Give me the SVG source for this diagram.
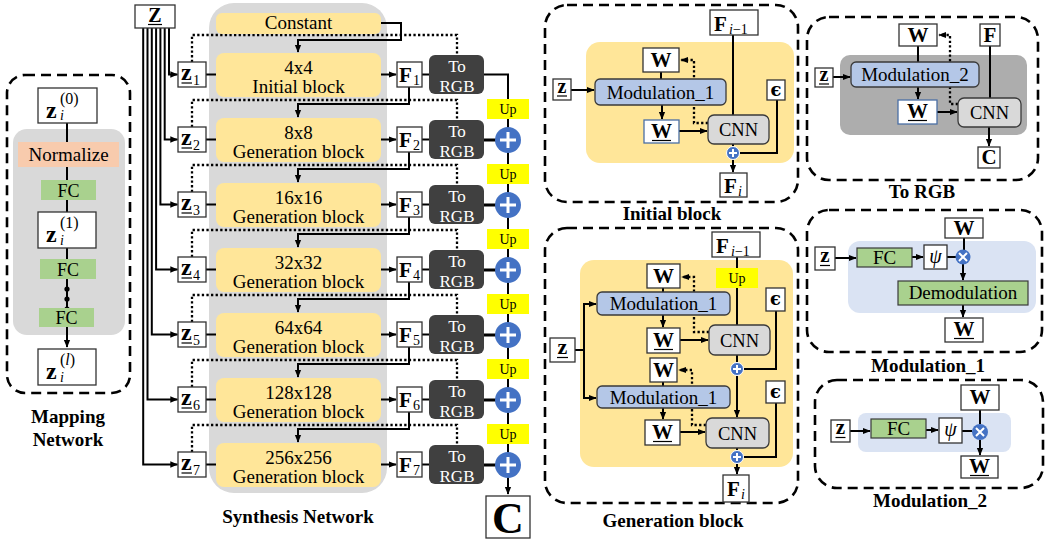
<svg xmlns="http://www.w3.org/2000/svg" width="1050" height="545" viewBox="0 0 1050 545" font-family="'Liberation Serif', 'Times New Roman', serif">
<defs>
<marker id="ah" viewBox="0 0 10 10" refX="9" refY="5" markerWidth="8" markerHeight="8" markerUnits="userSpaceOnUse" orient="auto"><path d="M0,1 L10,5 L0,9 z" fill="#000"/></marker>
<style>
text{font-family:"Liberation Serif","Times New Roman",serif;fill:#000}
.c{text-anchor:middle}
.b{font-weight:bold}
.it{font-style:italic}
.t19{font-size:19px}
.ttl{font-size:19px;font-weight:bold;text-anchor:middle}
.box{fill:#fff;stroke:#333;stroke-width:1.3}
.bbox{fill:#fff;stroke:#4A6FA5;stroke-width:1.3}
.blk{fill:#FFE699}
.rgb{fill:#404040}
.up{fill:#FFFF00}
.ln{fill:none;stroke:#000;stroke-width:2}
.th{fill:none;stroke:#000;stroke-width:3}
.dot{fill:none;stroke:#000;stroke-width:2.3;stroke-dasharray:2.3 2.3}
.dash{fill:none;stroke:#000;stroke-width:2.6;stroke-dasharray:10 6}
.mod{fill:#B4C7E7;stroke:#3A3A3A;stroke-width:1.3}
.cnn{fill:#D9D9D9;stroke:#3A3A3A;stroke-width:1.3}
.fc{fill:#A9D18E}
.fcs{fill:#A9D18E;stroke:#3A3A3A;stroke-width:1.2}
.add{fill:#4472C4}
.wl{stroke:#fff;stroke-width:3}
.ws{stroke:#fff;stroke-width:2}
.ul{stroke:#000;stroke-width:1.2}
.w{fill:#fff;font-size:17px;text-anchor:middle}
.upt{font-size:14px;text-anchor:middle}
.W{font-size:21px;font-weight:bold;text-anchor:middle}
.z{font-size:24px;font-weight:bold}
.eps{font-family:"DejaVu Serif",serif;font-size:18px;font-weight:bold;text-anchor:middle}
</style>
</defs>
<rect width="1050" height="545" fill="#fff"/>

<!-- ============ background panels ============ -->
<g id="panels">
  <rect class="dash" x="7" y="75" width="123" height="318" rx="18"/>
  <rect x="13" y="129" width="112" height="206" rx="14" fill="#D9D9D9"/>
  <rect x="209" y="3" width="178" height="490" rx="25" fill="#D9D9D9"/>
  <rect class="dash" x="545" y="5" width="253" height="197" rx="22"/>
  <rect x="586" y="42" width="208" height="121" rx="14" fill="#FFE699"/>
  <rect class="dash" x="807" y="17" width="231" height="163" rx="22"/>
  <rect x="840" y="55" width="187" height="80" rx="10" fill="#ADADAD"/>
  <rect class="dash" x="545" y="228" width="253" height="275" rx="22"/>
  <rect x="580" y="260" width="213" height="207" rx="14" fill="#FFE699"/>
  <rect class="dash" x="807" y="210" width="235" height="142" rx="22"/>
  <rect x="848" y="241" width="188" height="72" rx="12" fill="#DAE3F3"/>
  <rect class="dash" x="815" y="380" width="228" height="108" rx="22"/>
  <rect x="858" y="413" width="153" height="39" rx="8" fill="#DAE3F3"/>
</g>

<!-- ============ connectors ============ -->
<g id="connectors">
  <!-- mapping network -->
  <path class="ln" d="M67,123 V347" marker-end="url(#ah)"/>
  <!-- Z fan-out to the per-layer codes -->
  <path class="ln" d="M169,28 V74.5 H177.5" marker-end="url(#ah)"/>
  <path class="ln" d="M164.7,28 V139.5 H177.5" marker-end="url(#ah)"/>
  <path class="ln" d="M160.4,28 V204.5 H177.5" marker-end="url(#ah)"/>
  <path class="ln" d="M156.1,28 V269.5 H177.5" marker-end="url(#ah)"/>
  <path class="ln" d="M151.8,28 V334.5 H177.5" marker-end="url(#ah)"/>
  <path class="ln" d="M147.5,28 V399.5 H177.5" marker-end="url(#ah)"/>
  <path class="ln" d="M143.2,28 V464.5 H177.5" marker-end="url(#ah)"/>
  <!-- code to block, block to feature, feature to RGB -->
  <path class="ln" d="M206,74.5 H216 M206,139.5 H216 M206,204.5 H216 M206,269.5 H216 M206,334.5 H216 M206,399.5 H216 M206,464.5 H216"/>
  <path class="ln" d="M381,74.5 H396" marker-end="url(#ah)"/>
  <path class="ln" d="M381,139.5 H396" marker-end="url(#ah)"/>
  <path class="ln" d="M381,204.5 H396" marker-end="url(#ah)"/>
  <path class="ln" d="M381,269.5 H396" marker-end="url(#ah)"/>
  <path class="ln" d="M381,334.5 H396" marker-end="url(#ah)"/>
  <path class="ln" d="M381,399.5 H396" marker-end="url(#ah)"/>
  <path class="ln" d="M381,464.5 H396" marker-end="url(#ah)"/>
  <path class="ln" d="M422,74.5 H429 M422,139.5 H429 M422,204.5 H429 M422,269.5 H429 M422,334.5 H429 M422,399.5 H429 M422,464.5 H429"/>
  <!-- code also feeds the ToRGB of its layer -->
  <path class="dot" d="M192,62 V35 H457 V55"/>
  <path class="dot" d="M192,127 V100 H457 V120"/>
  <path class="dot" d="M192,192 V165 H457 V185"/>
  <path class="dot" d="M192,257 V230 H457 V250"/>
  <path class="dot" d="M192,322 V295 H457 V315"/>
  <path class="dot" d="M192,387 V360 H457 V380"/>
  <path class="dot" d="M192,452 V425 H457 V445"/>
  <!-- feature maps into the next block -->
  <path class="ln" d="M381,23 H401 V40 H298 V52" marker-end="url(#ah)"/>
  <path class="ln" d="M409,87 V104 H298 V117" marker-end="url(#ah)"/>
  <path class="ln" d="M409,152 V169 H298 V182" marker-end="url(#ah)"/>
  <path class="ln" d="M409,217 V234 H298 V247" marker-end="url(#ah)"/>
  <path class="ln" d="M409,282 V299 H298 V312" marker-end="url(#ah)"/>
  <path class="ln" d="M409,347 V364 H298 V377" marker-end="url(#ah)"/>
  <path class="ln" d="M409,412 V429 H298 V442" marker-end="url(#ah)"/>
  <!-- RGB skip path -->
  <path class="ln" d="M484,74.5 H508 V494" marker-end="url(#ah)"/>
  <path class="th" d="M484,140 H496 M484,205 H496 M484,270 H496 M484,335 H496 M484,400 H496 M484,465 H496"/>

  <!-- initial block detail -->
  <path class="ln" d="M571,90 H594" marker-end="url(#ah)"/>
  <path class="ln" d="M661,72 V79"/>
  <path class="ln" d="M662,105 V119" marker-end="url(#ah)"/>
  <path class="ln" d="M679,131 H707" marker-end="url(#ah)"/>
  <path class="dot" d="M708,123 H694 V60 H681" marker-end="url(#ah)"/>
  <path class="ln" d="M733,35 V115 M733,144 V147"/>
  <path class="ln" d="M733,159 V172" marker-end="url(#ah)"/>
  <path class="ln" d="M777,100 V153 H739.5"/>

  <!-- ToRGB detail -->
  <path class="ln" d="M833,77 H850" marker-end="url(#ah)"/>
  <path class="ln" d="M918,46 V62"/>
  <path class="ln" d="M918,87 V99" marker-end="url(#ah)"/>
  <path class="ln" d="M937,112 H957" marker-end="url(#ah)"/>
  <path class="dot" d="M958,104 H950 V35 H939" marker-end="url(#ah)"/>
  <path class="ln" d="M990,46 V98"/>
  <path class="ln" d="M989,127 V146" marker-end="url(#ah)"/>

  <!-- generation block detail -->
  <path class="ln" d="M575,350 H584"/>
  <path class="ln" d="M584,350 V304 H596" marker-end="url(#ah)"/>
  <path class="ln" d="M584,350 V398 H596" marker-end="url(#ah)"/>
  <path class="ln" d="M663,288 V292 M663,382 V386"/>
  <path class="ln" d="M663,315 V327" marker-end="url(#ah)"/>
  <path class="ln" d="M663,408 V419" marker-end="url(#ah)"/>
  <path class="ln" d="M680,340 H708" marker-end="url(#ah)"/>
  <path class="ln" d="M680,432 H705" marker-end="url(#ah)"/>
  <path class="dot" d="M709,332 H694 V277 H682" marker-end="url(#ah)"/>
  <path class="dot" d="M706,425 H692 V370 H679" marker-end="url(#ah)"/>
  <path class="ln" d="M737,257 V325 M737,355 V362.5 M737,448 V450.5"/>
  <path class="ln" d="M776,311 V369 H743.5 M776,403 V457 H743.5"/>
  <path class="ln" d="M737,375.5 V417" marker-end="url(#ah)"/>
  <path class="ln" d="M737,463.5 V474" marker-end="url(#ah)"/>

  <!-- modulation_1 detail -->
  <path class="ln" d="M835,258 H856" marker-end="url(#ah)"/>
  <path class="ln" d="M912,257 H923" marker-end="url(#ah)"/>
  <path class="ln" d="M947,257 H956 M964,238 V250"/>
  <path class="ln" d="M963,264 V280" marker-end="url(#ah)"/>
  <path class="ln" d="M963,305 V317" marker-end="url(#ah)"/>

  <!-- modulation_2 detail -->
  <path class="ln" d="M850,431 H870" marker-end="url(#ah)"/>
  <path class="ln" d="M926,430 H938" marker-end="url(#ah)"/>
  <path class="ln" d="M962,431 H972 M980,410 V424"/>
  <path class="ln" d="M980,440 V455" marker-end="url(#ah)"/>
</g>

<!-- ============ mapping network ============ -->
<g id="map-z0">
  <rect class="box" x="38" y="88" width="59" height="35"/>
  <text x="46" y="118" class="z">z</text><text x="60" y="104" font-size="16">(0)</text><text x="60" y="120" font-size="14" class="it">i</text>
</g>
<g id="map-normalize">
  <rect x="18" y="142" width="101" height="25" fill="#F8CBAD"/>
  <text x="68.5" y="161" class="t19 c">Normalize</text>
</g>
<g id="map-fc1"><rect class="fc" x="41" y="180" width="55" height="20"/><text x="68.5" y="197" class="c" font-size="18">FC</text></g>
<g id="map-z1">
  <rect class="box" x="38" y="212" width="58" height="36"/>
  <text x="46" y="242" class="z">z</text><text x="60" y="228" font-size="16">(1)</text><text x="60" y="245" font-size="14" class="it">i</text>
</g>
<g id="map-fc2"><rect class="fc" x="40" y="259" width="56" height="20"/><text x="68" y="276" class="c" font-size="18">FC</text></g>
<g id="map-dots"><circle cx="67" cy="289" r="2.6"/><circle cx="67" cy="299" r="2.6"/><circle cx="67" cy="309" r="2.6"/></g>
<g id="map-fc3"><rect class="fc" x="39" y="308" width="55" height="19"/><text x="66.5" y="324" class="c" font-size="18">FC</text></g>
<g id="map-zl">
  <rect class="box" x="38" y="349" width="58" height="36"/>
  <text x="46" y="379" class="z">z</text><text x="60" y="365" font-size="16">(<tspan class="it">l</tspan>)</text><text x="60" y="382" font-size="14" class="it">i</text>
</g>
<g id="map-title"><text x="68" y="423" class="ttl">Mapping</text><text x="68" y="446" class="ttl">Network</text></g>

<!-- ============ synthesis network ============ -->
<g id="Z">
  <rect class="box" x="135" y="5" width="40" height="23"/>
  <text x="155" y="22" class="c b" font-size="20">Z</text>
  <line class="ul" x1="148" y1="24.5" x2="162" y2="24.5"/>
</g>
<g id="constant"><rect class="blk" x="216" y="13" width="165" height="21" rx="6"/><text x="298.5" y="29" class="t19 c">Constant</text></g>

<g id="blk1"><rect class="blk" x="216" y="53" width="165" height="44" rx="8"/><text x="298.5" y="74" class="t19 c">4x4</text><text x="298.5" y="93" class="t19 c">Initial block</text></g>
<g id="blk2"><rect class="blk" x="216" y="118" width="165" height="44" rx="8"/><text x="298.5" y="139" class="t19 c">8x8</text><text x="298.5" y="158" class="t19 c">Generation block</text></g>
<g id="blk3"><rect class="blk" x="216" y="183" width="165" height="44" rx="8"/><text x="298.5" y="204" class="t19 c">16x16</text><text x="298.5" y="223" class="t19 c">Generation block</text></g>
<g id="blk4"><rect class="blk" x="216" y="248" width="165" height="44" rx="8"/><text x="298.5" y="269" class="t19 c">32x32</text><text x="298.5" y="288" class="t19 c">Generation block</text></g>
<g id="blk5"><rect class="blk" x="216" y="313" width="165" height="44" rx="8"/><text x="298.5" y="334" class="t19 c">64x64</text><text x="298.5" y="353" class="t19 c">Generation block</text></g>
<g id="blk6"><rect class="blk" x="216" y="378" width="165" height="44" rx="8"/><text x="298.5" y="399" class="t19 c">128x128</text><text x="298.5" y="418" class="t19 c">Generation block</text></g>
<g id="blk7"><rect class="blk" x="216" y="443" width="165" height="44" rx="8"/><text x="298.5" y="464" class="t19 c">256x256</text><text x="298.5" y="483" class="t19 c">Generation block</text></g>

<!-- per-layer codes -->
<g id="z1"><rect class="box" x="178" y="62" width="28" height="25"/><text x="181" y="80" class="z">z</text><text x="193" y="85" font-size="14">1</text><line class="ul" x1="181.5" y1="83" x2="192" y2="83"/></g>
<g id="z2"><rect class="box" x="178" y="127" width="28" height="25"/><text x="181" y="145" class="z">z</text><text x="193" y="150" font-size="14">2</text><line class="ul" x1="181.5" y1="148" x2="192" y2="148"/></g>
<g id="z3"><rect class="box" x="178" y="192" width="28" height="25"/><text x="181" y="210" class="z">z</text><text x="193" y="215" font-size="14">3</text><line class="ul" x1="181.5" y1="213" x2="192" y2="213"/></g>
<g id="z4"><rect class="box" x="178" y="257" width="28" height="25"/><text x="181" y="275" class="z">z</text><text x="193" y="280" font-size="14">4</text><line class="ul" x1="181.5" y1="278" x2="192" y2="278"/></g>
<g id="z5"><rect class="box" x="178" y="322" width="28" height="25"/><text x="181" y="340" class="z">z</text><text x="193" y="345" font-size="14">5</text><line class="ul" x1="181.5" y1="343" x2="192" y2="343"/></g>
<g id="z6"><rect class="box" x="178" y="387" width="28" height="25"/><text x="181" y="405" class="z">z</text><text x="193" y="410" font-size="14">6</text><line class="ul" x1="181.5" y1="408" x2="192" y2="408"/></g>
<g id="z7"><rect class="box" x="178" y="452" width="28" height="25"/><text x="181" y="470" class="z">z</text><text x="193" y="475" font-size="14">7</text><line class="ul" x1="181.5" y1="473" x2="192" y2="473"/></g>

<!-- feature maps -->
<g id="F1"><rect class="box" x="397" y="62" width="25" height="25"/><text x="399" y="82" class="b" font-size="21">F</text><text x="413" y="85" font-size="14">1</text></g>
<g id="F2"><rect class="box" x="397" y="127" width="25" height="25"/><text x="399" y="147" class="b" font-size="21">F</text><text x="413" y="150" font-size="14">2</text></g>
<g id="F3"><rect class="box" x="397" y="192" width="25" height="25"/><text x="399" y="212" class="b" font-size="21">F</text><text x="413" y="215" font-size="14">3</text></g>
<g id="F4"><rect class="box" x="397" y="257" width="25" height="25"/><text x="399" y="277" class="b" font-size="21">F</text><text x="413" y="280" font-size="14">4</text></g>
<g id="F5"><rect class="box" x="397" y="322" width="25" height="25"/><text x="399" y="342" class="b" font-size="21">F</text><text x="413" y="345" font-size="14">5</text></g>
<g id="F6"><rect class="box" x="397" y="387" width="25" height="25"/><text x="399" y="407" class="b" font-size="21">F</text><text x="413" y="410" font-size="14">6</text></g>
<g id="F7"><rect class="box" x="397" y="452" width="25" height="25"/><text x="399" y="472" class="b" font-size="21">F</text><text x="413" y="475" font-size="14">7</text></g>

<!-- ToRGB layers -->
<g id="rgb1"><rect class="rgb" x="429" y="55" width="55" height="39" rx="6"/><text x="457" y="72" class="w">To</text><text x="457" y="92" class="w">RGB</text></g>
<g id="rgb2"><rect class="rgb" x="429" y="120" width="55" height="39" rx="6"/><text x="457" y="137" class="w">To</text><text x="457" y="157" class="w">RGB</text></g>
<g id="rgb3"><rect class="rgb" x="429" y="185" width="55" height="39" rx="6"/><text x="457" y="202" class="w">To</text><text x="457" y="222" class="w">RGB</text></g>
<g id="rgb4"><rect class="rgb" x="429" y="250" width="55" height="39" rx="6"/><text x="457" y="267" class="w">To</text><text x="457" y="287" class="w">RGB</text></g>
<g id="rgb5"><rect class="rgb" x="429" y="315" width="55" height="39" rx="6"/><text x="457" y="332" class="w">To</text><text x="457" y="352" class="w">RGB</text></g>
<g id="rgb6"><rect class="rgb" x="429" y="380" width="55" height="39" rx="6"/><text x="457" y="397" class="w">To</text><text x="457" y="417" class="w">RGB</text></g>
<g id="rgb7"><rect class="rgb" x="429" y="445" width="55" height="39" rx="6"/><text x="457" y="462" class="w">To</text><text x="457" y="482" class="w">RGB</text></g>

<!-- upsampling and sums on the RGB path -->
<g id="up2"><rect class="up" x="487" y="99" width="42" height="20"/><text x="508" y="114" class="upt">Up</text></g>
<g id="up3"><rect class="up" x="487" y="164" width="42" height="20"/><text x="508" y="179" class="upt">Up</text></g>
<g id="up4"><rect class="up" x="487" y="229" width="42" height="20"/><text x="508" y="244" class="upt">Up</text></g>
<g id="up5"><rect class="up" x="487" y="294" width="42" height="20"/><text x="508" y="309" class="upt">Up</text></g>
<g id="up6"><rect class="up" x="487" y="359" width="42" height="20"/><text x="508" y="374" class="upt">Up</text></g>
<g id="up7"><rect class="up" x="487" y="424" width="42" height="20"/><text x="508" y="439" class="upt">Up</text></g>
<g id="sum2"><circle class="add" cx="508" cy="140" r="13"/><path class="wl" d="M500,140 H516 M508,132 V148"/></g>
<g id="sum3"><circle class="add" cx="508" cy="205" r="13"/><path class="wl" d="M500,205 H516 M508,197 V213"/></g>
<g id="sum4"><circle class="add" cx="508" cy="270" r="13"/><path class="wl" d="M500,270 H516 M508,262 V278"/></g>
<g id="sum5"><circle class="add" cx="508" cy="335" r="13"/><path class="wl" d="M500,335 H516 M508,327 V343"/></g>
<g id="sum6"><circle class="add" cx="508" cy="400" r="13"/><path class="wl" d="M500,400 H516 M508,392 V408"/></g>
<g id="sum7"><circle class="add" cx="508" cy="465" r="13"/><path class="wl" d="M500,465 H516 M508,457 V473"/></g>
<g id="C-out"><rect class="box" x="486" y="496" width="44" height="42"/><text x="508" y="533" class="c b" font-size="44">C</text></g>
<g id="synth-title"><text x="298" y="523" class="ttl">Synthesis Network</text></g>

<!-- ============ initial block detail ============ -->
<g id="ib-Fprev"><rect class="box" x="710" y="10" width="48" height="25"/><text x="714" y="31" class="b" font-size="21">F</text><text x="729" y="34" font-size="14"><tspan class="it">i</tspan>−1</text></g>
<g id="ib-W"><rect class="box" x="643" y="48" width="36" height="24"/><text x="661" y="67" class="W">W</text></g>
<g id="ib-z"><rect class="box" x="553" y="79" width="18" height="21"/><text x="562" y="93" class="c b" font-size="20">z</text><line class="ul" x1="557" y1="96" x2="567" y2="96"/></g>
<g id="ib-mod"><rect class="mod" x="595" y="79" width="131" height="26" rx="5"/><text x="660.5" y="98.5" class="t19 c">Modulation_1</text></g>
<g id="ib-Wm"><rect class="bbox" x="644" y="120" width="35" height="23"/><text x="661.5" y="138" class="W">W</text><line class="ul" x1="652" y1="140.5" x2="671" y2="140.5"/></g>
<g id="ib-cnn"><rect class="cnn" x="708" y="115" width="61" height="29" rx="6"/><text x="738.5" y="136" class="c" font-size="18.5">CNN</text></g>
<g id="ib-eps"><rect class="box" x="767" y="80" width="18" height="20"/><text x="776" y="96" class="eps">ϵ</text></g>
<g id="ib-add"><circle class="add" cx="733" cy="153" r="6.5" stroke="#fff" stroke-width="1"/><path class="ws" d="M729,153 H737 M733,149 V157"/></g>
<g id="ib-Fi"><rect class="box" x="720" y="173" width="27" height="24"/><text x="724" y="193" class="b" font-size="21">F</text><text x="738" y="196" font-size="14" class="it">i</text></g>
<g id="ib-title"><text x="672" y="220" class="ttl">Initial block</text></g>

<!-- ============ ToRGB detail ============ -->
<g id="tr-W"><rect class="box" x="899" y="24" width="38" height="22"/><text x="918" y="42" class="W">W</text></g>
<g id="tr-F"><rect class="box" x="980" y="24" width="20" height="22"/><text x="990" y="42" class="c b" font-size="21">F</text></g>
<g id="tr-z"><rect class="box" x="815" y="68" width="18" height="19"/><text x="824" y="81" class="c b" font-size="20">z</text><line class="ul" x1="819" y1="84" x2="829" y2="84"/></g>
<g id="tr-mod"><rect class="mod" x="851" y="62" width="128" height="25" rx="5"/><text x="915" y="81" class="t19 c">Modulation_2</text></g>
<g id="tr-Wm"><rect class="bbox" x="898" y="100" width="39" height="24"/><text x="917.5" y="118" class="W">W</text><line class="ul" x1="908" y1="120.5" x2="927" y2="120.5"/></g>
<g id="tr-cnn"><rect class="cnn" x="958" y="98" width="63" height="29" rx="6"/><text x="989.5" y="119" class="c" font-size="18.5">CNN</text></g>
<g id="tr-C"><rect class="box" x="978" y="147" width="22" height="21"/><text x="989" y="164" class="c b" font-size="21">C</text></g>
<g id="tr-title"><text x="922" y="198" class="ttl">To RGB</text></g>

<!-- ============ generation block detail ============ -->
<g id="gb-Fprev"><rect class="box" x="712" y="232" width="48" height="25"/><text x="716" y="253" class="b" font-size="21">F</text><text x="731" y="256" font-size="14"><tspan class="it">i</tspan>−1</text></g>
<g id="gb-up"><rect class="up" x="716" y="268" width="42" height="20"/><text x="737" y="283" class="upt">Up</text></g>
<g id="gb-z"><rect class="box" x="550" y="338" width="25" height="24"/><text x="562.5" y="354" class="c b" font-size="22">z</text><line class="ul" x1="557" y1="357.5" x2="568" y2="357.5"/></g>
<g id="gb-W1"><rect class="box" x="647" y="264" width="33" height="24"/><text x="663.5" y="283" class="W">W</text></g>
<g id="gb-mod1"><rect class="mod" x="597" y="292" width="133" height="23" rx="5"/><text x="663.5" y="310" class="t19 c">Modulation_1</text></g>
<g id="gb-Wm1"><rect class="box" x="647" y="328" width="33" height="25"/><text x="663.5" y="347" class="W">W</text><line class="ul" x1="654" y1="349.5" x2="673" y2="349.5"/></g>
<g id="gb-cnn1"><rect class="cnn" x="709" y="325" width="61" height="30" rx="6"/><text x="739.5" y="346.5" class="c" font-size="18.5">CNN</text></g>
<g id="gb-eps1"><rect class="box" x="766" y="288" width="19" height="23"/><text x="775.5" y="305" class="eps">ϵ</text></g>
<g id="gb-add1"><circle class="add" cx="737" cy="369" r="6.5" stroke="#fff" stroke-width="1"/><path class="ws" d="M733,369 H741 M737,365 V373"/></g>
<g id="gb-W2"><rect class="box" x="650" y="358" width="27" height="24"/><text x="663.5" y="377" class="W">W</text></g>
<g id="gb-mod2"><rect class="mod" x="597" y="386" width="133" height="22" rx="5"/><text x="663.5" y="403.5" class="t19 c">Modulation_1</text></g>
<g id="gb-Wm2"><rect class="box" x="645" y="420" width="35" height="25"/><text x="662.5" y="439" class="W">W</text><line class="ul" x1="653" y1="441.5" x2="672" y2="441.5"/></g>
<g id="gb-cnn2"><rect class="cnn" x="706" y="418" width="63" height="30" rx="6"/><text x="737.5" y="439.5" class="c" font-size="18.5">CNN</text></g>
<g id="gb-eps2"><rect class="box" x="766" y="381" width="19" height="22"/><text x="775.5" y="397.5" class="eps">ϵ</text></g>
<g id="gb-add2"><circle class="add" cx="737" cy="457" r="6.5" stroke="#fff" stroke-width="1"/><path class="ws" d="M733,457 H741 M737,453 V461"/></g>
<g id="gb-Fi"><rect class="box" x="723" y="475" width="26" height="27"/><text x="727" y="496" class="b" font-size="21">F</text><text x="741" y="499" font-size="14" class="it">i</text></g>
<g id="gb-title"><text x="673" y="527" class="ttl">Generation block</text></g>

<!-- ============ modulation_1 detail ============ -->
<g id="m1-W"><rect class="box" x="945" y="218" width="38" height="20"/><text x="964" y="235" class="W">W</text></g>
<g id="m1-z"><rect class="box" x="815" y="247" width="20" height="23"/><text x="825" y="262" class="c b" font-size="21">z</text><line class="ul" x1="820" y1="265.5" x2="830" y2="265.5"/></g>
<g id="m1-fc"><rect class="fcs" x="857" y="248" width="55" height="19"/><text x="884.5" y="264" class="t19 c">FC</text></g>
<g id="m1-psi"><rect class="box" x="924" y="245" width="23" height="24"/><text x="935.5" y="263" class="c it" font-size="20">ψ</text></g>
<g id="m1-mul"><circle class="add" cx="963" cy="257" r="7.5"/><path class="ws" d="M959,253 L967,261 M967,253 L959,261"/></g>
<g id="m1-demod"><rect class="fcs" x="898" y="281" width="130" height="24"/><text x="963" y="299" class="t19 c">Demodulation</text></g>
<g id="m1-Wm"><rect class="box" x="945" y="318" width="38" height="24"/><text x="964" y="336" class="W">W</text><line class="ul" x1="954" y1="338.5" x2="974" y2="338.5"/></g>
<g id="m1-title"><text x="928" y="372" class="ttl">Modulation_1</text></g>

<!-- ============ modulation_2 detail ============ -->
<g id="m2-W"><rect class="box" x="961" y="385" width="38" height="25"/><text x="980" y="404" class="W">W</text></g>
<g id="m2-z"><rect class="box" x="831" y="420" width="19" height="22"/><text x="840.5" y="434" class="c b" font-size="21">z</text><line class="ul" x1="835.5" y1="437.5" x2="845.5" y2="437.5"/></g>
<g id="m2-fc"><rect class="fcs" x="871" y="419" width="55" height="19"/><text x="898.5" y="435" class="t19 c">FC</text></g>
<g id="m2-psi"><rect class="box" x="939" y="418" width="23" height="25"/><text x="950.5" y="436" class="c it" font-size="20">ψ</text></g>
<g id="m2-mul"><circle class="add" cx="980" cy="432" r="8"/><path class="ws" d="M976,428 L984,436 M984,428 L976,436"/></g>
<g id="m2-Wm"><rect class="box" x="961" y="456" width="37" height="22"/><text x="979.5" y="473" class="W">W</text><line class="ul" x1="970" y1="475.5" x2="989" y2="475.5"/></g>
<g id="m2-title"><text x="930" y="507" class="ttl">Modulation_2</text></g>
</svg>
